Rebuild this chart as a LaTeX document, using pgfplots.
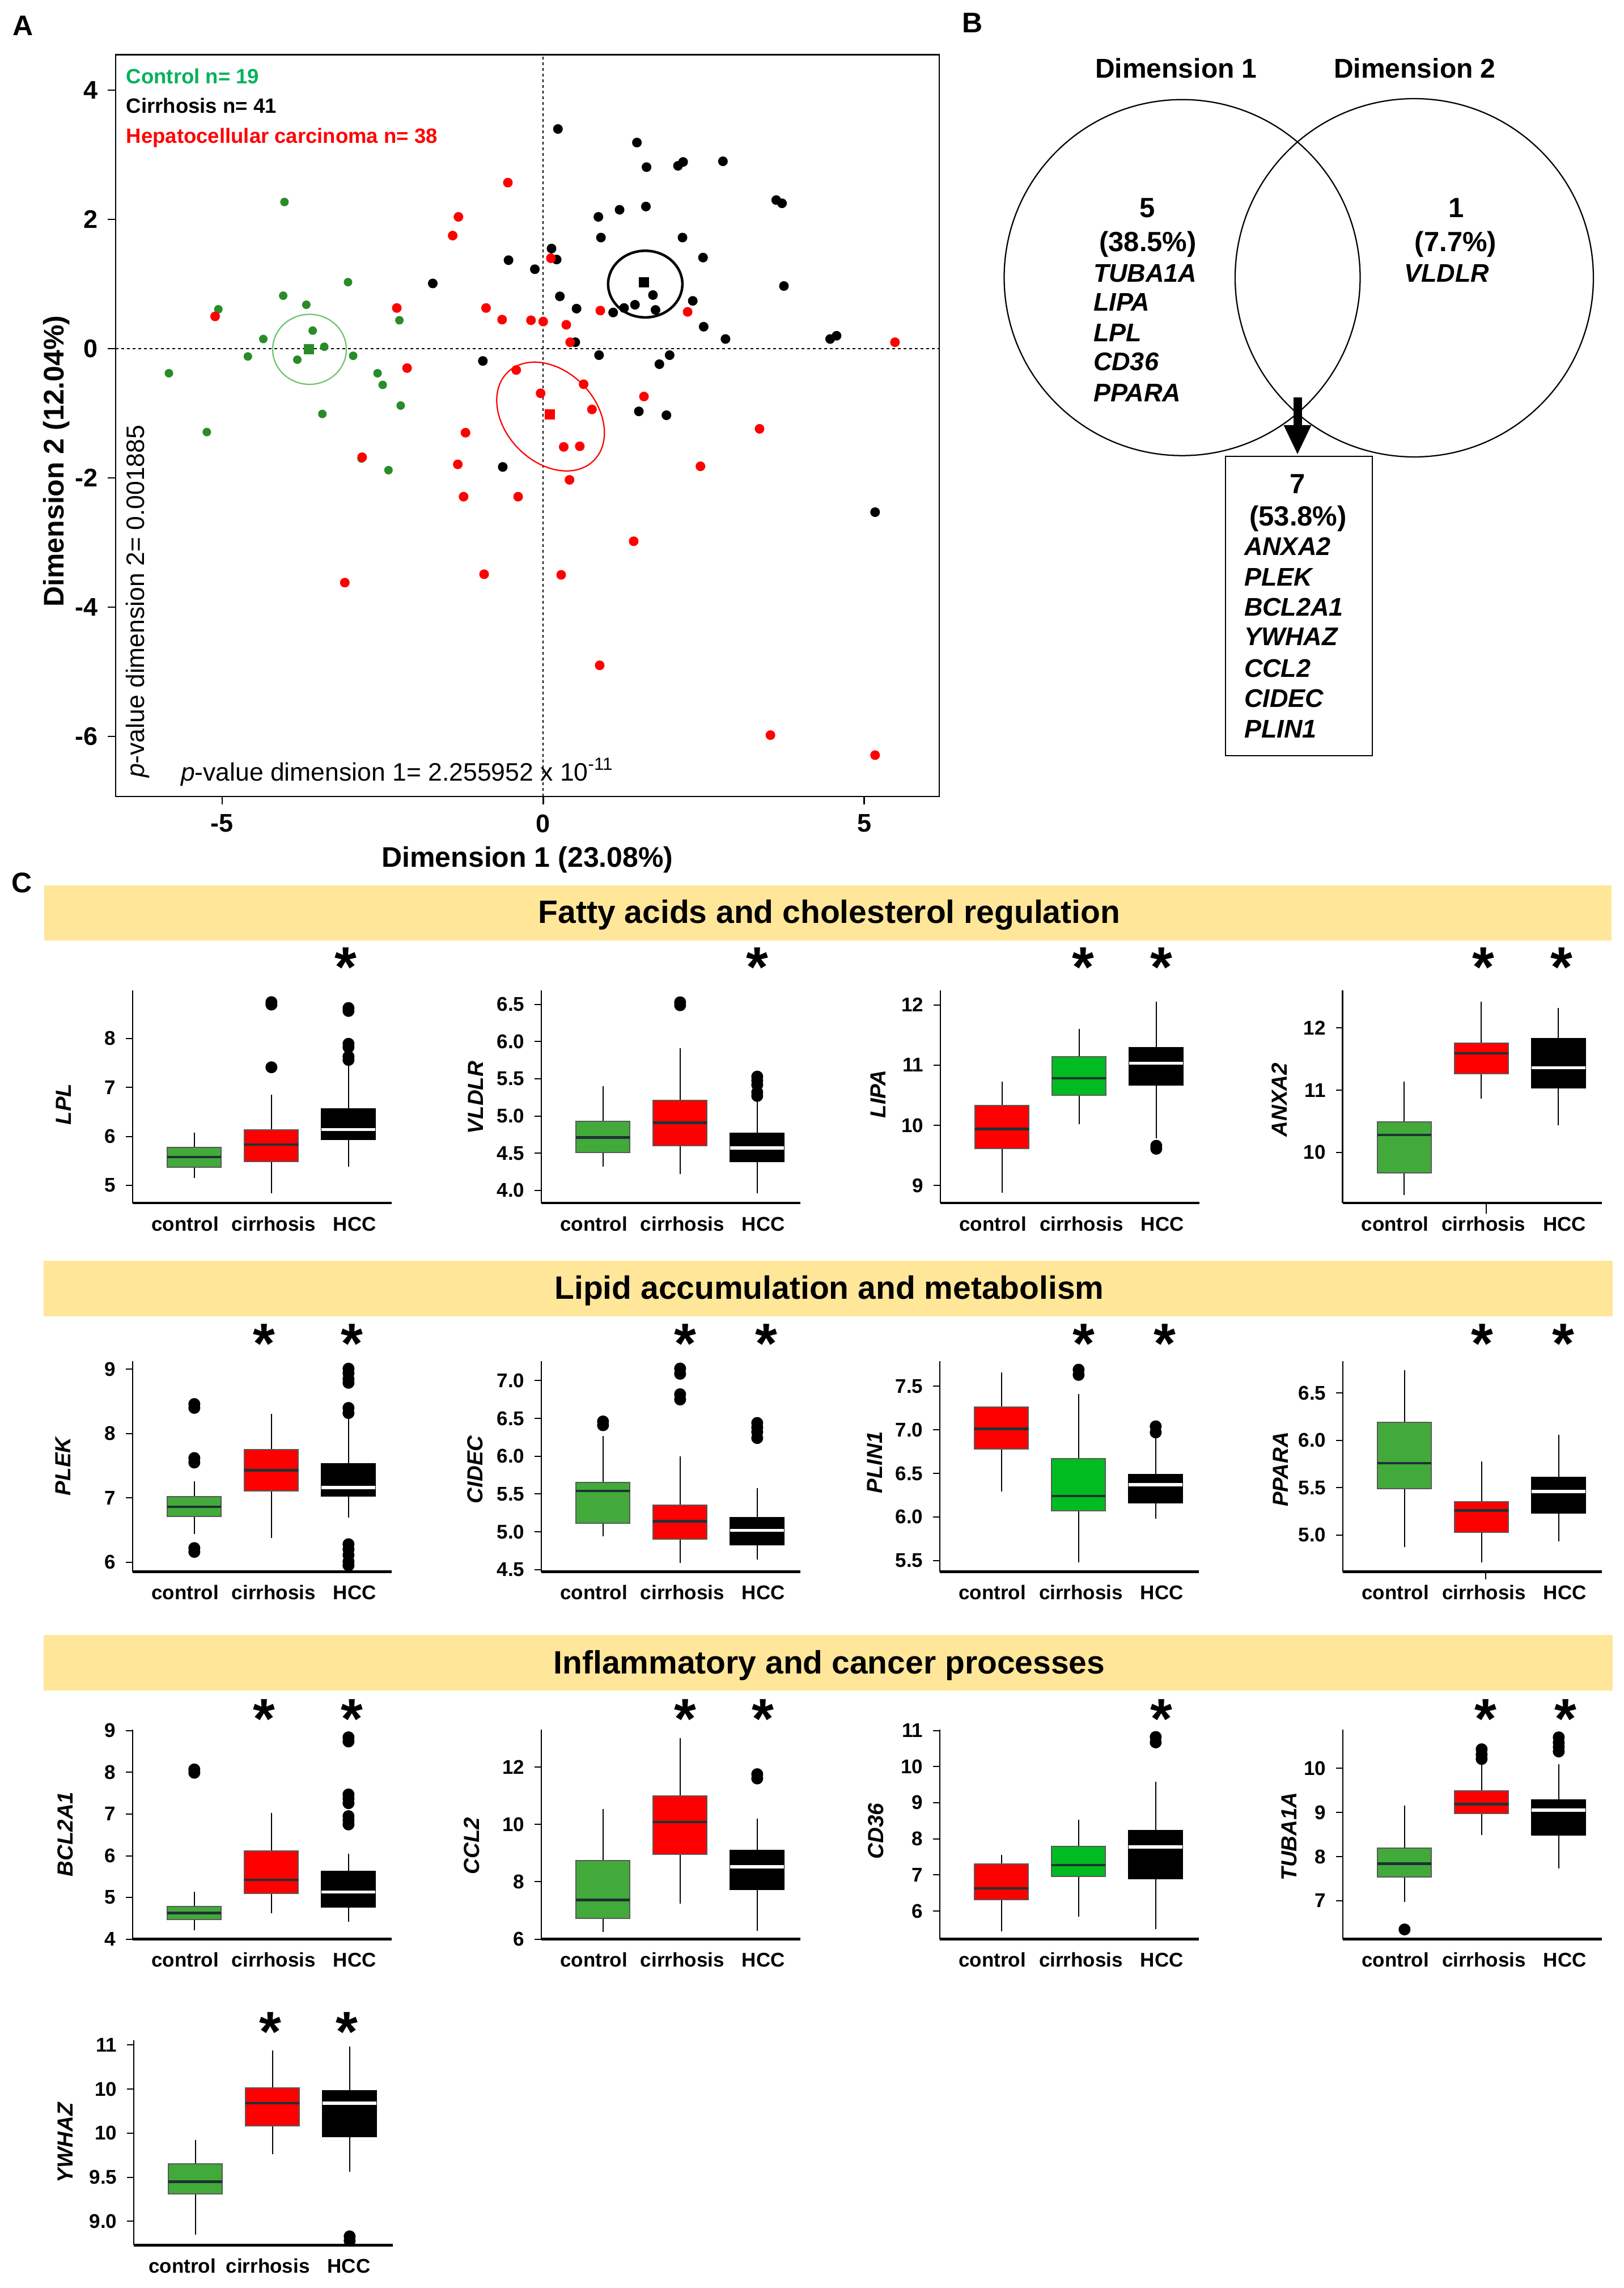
\documentclass[border=0pt]{standalone}
\usepackage{pgfplots}
\pgfplotsset{compat=1.18}
\usepgfplotslibrary{statistics}
\usetikzlibrary{shapes.geometric}
\usepackage{fontspec}
\setmainfont{Liberation Sans}
\definecolor{ptgreen}{RGB}{40,140,40}
\definecolor{ctrltxt}{RGB}{0,178,90}
\definecolor{ellgreen}{RGB}{110,195,110}
\definecolor{cred}{RGB}{255,0,0}
\definecolor{bgreen}{RGB}{66,170,58}
\definecolor{brgreen}{RGB}{0,188,32}
\definecolor{medcol}{RGB}{30,50,50}
\definecolor{banner}{RGB}{255,230,153}
\newcommand\fs[1]{\fontsize{#1}{#1}\selectfont}
\pgfplotsset{
  bpax/.style={scale only axis, width=91.4pt, axis lines*=left, xmin=0.2, xmax=3.56,
    xtick={0.88,2.03,3.08}, xticklabels={control,cirrhosis,HCC}, x tick style={draw=none},
    tick align=outside, major tick length=2.4pt, y tick style={black,line width=0.4pt},
    x axis line style={line width=0.9pt}, y axis line style={line width=0.5pt},
    tick label style={font=\bfseries\fs{7}},
    xticklabel style={anchor=base, yshift=-7.4pt},
    ylabel style={font=\bfseries\itshape\fs{7.7}, anchor=center},
    clip=false, boxplot/draw direction=y, boxplot/box extend=0.7, boxplot/whisker extend=0,
  },
  gbx/.style={black, mark=*, mark size=1.9pt, mark options={fill=black,draw=black},
    boxplot/every box/.style={fill=bgreen, draw=black!65, line width=0.4pt},
    boxplot/every median/.style={draw=medcol, line width=0.9pt},
    boxplot/every whisker/.style={draw=black, line width=0.4pt}},
  bbx/.style={black, mark=*, mark size=1.9pt, mark options={fill=black,draw=black},
    boxplot/every box/.style={fill=brgreen, draw=black!65, line width=0.4pt},
    boxplot/every median/.style={draw=medcol, line width=0.9pt},
    boxplot/every whisker/.style={draw=black, line width=0.4pt}},
  rbx/.style={black, mark=*, mark size=1.9pt, mark options={fill=black,draw=black},
    boxplot/every box/.style={fill=cred, draw=black!65, line width=0.4pt},
    boxplot/every median/.style={draw=medcol, line width=0.9pt},
    boxplot/every whisker/.style={draw=black, line width=0.4pt}},
  kbx/.style={black, mark=*, mark size=1.9pt, mark options={fill=black,draw=black},
    boxplot/every box/.style={fill=black, draw=black, line width=0.4pt},
    boxplot/every median/.style={draw=white, line width=1.1pt},
    boxplot/every whisker/.style={draw=black, line width=0.4pt}},
}
\newcommand\bp[7]{\addplot[#1, boxplot prepared={draw position=#2, lower whisker=#3, lower quartile=#4, median=#5, upper quartile=#6, upper whisker=#7}] coordinates {};}
\newcommand\bpo[8]{\addplot[#1, boxplot prepared={draw position=#2, lower whisker=#3, lower quartile=#4, median=#5, upper quartile=#6, upper whisker=#7}] table[row sep=\\, y index=0] {data\\ #8};}
\newcommand\sig[2]{\node[font=\bfseries\fs{20}, anchor=base, inner sep=0pt] at (#1,-#2) {*};}
\begin{document}
\begin{tikzpicture}
% ---------------- Panel A ----------------
\begin{axis}[at={(40.8pt,-281pt)}, anchor=south west, scale only axis, width=290.6pt, height=261.7pt,
  xmin=-6.66, xmax=6.17, ymin=-6.93, ymax=4.55,
  xtick={-5,0,5}, xticklabels={-5,0,5}, ytick={-6,-4,-2,0,2,4}, yticklabels={-6,-4,-2,0,2,4},
  tick align=outside, xtick pos=left, ytick pos=left, major tick length=2.8pt,
  axis line style={line width=0.55pt}, tick style={black, line width=0.5pt},
  tick label style={font=\bfseries\fs{9}},
  xlabel={Dimension 1 (23.08\%)}, ylabel={Dimension 2 (12.04\%)},
  label style={font=\bfseries\fs{10}},
  xlabel style={at={(axis description cs:0.5,0)}, anchor=center, yshift=-22.4pt},
  ylabel style={at={(axis description cs:-0.0718,0.452)}, anchor=center},
  clip=false]
\addplot[black, dash pattern=on 1pt off 1pt, line width=0.45pt] coordinates {(0,-6.93)(0,4.55)};
\addplot[black, dash pattern=on 1pt off 1pt, line width=0.45pt] coordinates {(-6.66,0)(6.17,0)};
\addplot[only marks, mark=*, mark size=1.3pt, color=ptgreen, mark options={fill=ptgreen,draw=ptgreen}] coordinates {
(-4.03,2.27)(-3.04,1.03)(-4.05,0.82)(-3.69,0.68)(-5.06,0.61)(-2.24,0.44)(-3.59,0.28)(-4.36,0.15)(-3.41,0.03)(-4.60,-0.12)(-2.96,-0.11)(-3.83,-0.17)(-5.83,-0.38)(-2.58,-0.38)(-2.50,-0.56)(-2.22,-0.88)(-3.44,-1.01)(-5.24,-1.29)(-2.41,-1.88)(-2.83,-1.70)};
\addplot[only marks, mark=*, mark size=1.5pt, color=black, mark options={fill=black,draw=black}] coordinates {
(0.23,3.40)(1.46,3.19)(1.61,2.81)(2.10,2.83)(2.18,2.89)(2.80,2.90)(3.63,2.30)(3.72,2.25)(1.19,2.15)(1.60,2.20)(0.86,2.04)(0.90,1.72)(2.17,1.72)(0.13,1.55)(0.21,1.38)(-0.54,1.37)(-0.13,1.23)(2.49,1.41)(-1.72,1.01)(3.75,0.97)(0.26,0.81)(1.71,0.83)(2.33,0.74)(0.52,0.62)(1.09,0.56)(1.26,0.63)(1.43,0.68)(1.75,0.60)(2.50,0.34)(2.84,0.15)(4.47,0.15)(4.57,0.20)(0.50,0.10)(0.87,-0.10)(1.97,-0.10)(1.81,-0.24)(-0.94,-0.19)(1.49,-0.97)(1.92,-1.03)(-0.63,-1.83)(5.17,-2.53)};
\addplot[only marks, mark=*, mark size=1.5pt, color=cred, mark options={fill=cred,draw=cred}] coordinates {
(-0.55,2.57)(-1.32,2.04)(-1.41,1.75)(0.12,1.40)(-2.28,0.63)(-0.89,0.63)(0.89,0.59)(2.25,0.57)(-5.11,0.50)(-0.64,0.45)(-0.19,0.44)(0.0,0.42)(0.36,0.37)(0.42,0.10)(5.48,0.10)(-2.12,-0.30)(-0.42,-0.33)(0.63,-0.55)(-0.04,-0.69)(1.57,-0.74)(0.76,-0.94)(-1.21,-1.30)(3.37,-1.24)(0.32,-1.52)(0.57,-1.51)(-2.82,-1.68)(-1.33,-1.79)(2.45,-1.82)(0.41,-2.03)(-1.24,-2.29)(-0.39,-2.29)(1.41,-2.98)(-0.92,-3.49)(0.28,-3.50)(-3.09,-3.62)(0.88,-4.90)(3.54,-5.98)(5.17,-6.29)};
\addplot[only marks, mark=square*, mark size=1.6pt, color=ptgreen, mark options={fill=ptgreen,draw=ptgreen}] coordinates {(-3.65,-0.01)};
\addplot[only marks, mark=square*, mark size=1.6pt, color=black, mark options={fill=black,draw=black}] coordinates {(1.57,1.03)};
\addplot[only marks, mark=square*, mark size=1.6pt, color=cred, mark options={fill=cred,draw=cred}] coordinates {(0.10,-1.02)};
\node[draw=ellgreen, ellipse, minimum width=26pt, minimum height=24.7pt, inner sep=0pt, line width=0.45pt] at (axis cs:-3.64,-0.01) {};
\node[draw=black, ellipse, minimum width=26.2pt, minimum height=23.5pt, inner sep=0pt, line width=0.9pt] at (axis cs:1.59,1.0) {};
\node[draw=cred, ellipse, minimum width=43.5pt, minimum height=32pt, inner sep=0pt, rotate=-46, line width=0.45pt] at (axis cs:0.115,-1.05) {};
\end{axis}
% ---------------- Row 1 ----------------
\begin{axis}[bpax, at={(46.8pt,-424.4pt)}, anchor=south west, height=75pt, ymin=4.64, ymax=8.98,
  ytick={5,6,7,8}, yticklabels={5,6,7,8}, ylabel={LPL}, ylabel style={at={(axis description cs:-0.267,0.464)}}]
\bp{gbx}{1}{5.15}{5.37}{5.58}{5.77}{6.07}
\bpo{rbx}{2}{4.84}{5.49}{5.83}{6.13}{6.85}{8.74\\ 8.69\\ 7.41\\}
\bpo{kbx}{3}{5.38}{5.94}{6.14}{6.56}{7.45}{8.62\\ 8.56\\ 7.89\\ 7.82\\ 7.63\\ 7.56\\}
\end{axis}
\begin{axis}[bpax, at={(191pt,-424.4pt)}, anchor=south west, height=75pt, ymin=3.83, ymax=6.69,
  ytick={4,4.5,5,5.5,6,6.5}, yticklabels={4.0,4.5,5.0,5.5,6.0,6.5}, ylabel={VLDLR}, ylabel style={at={(axis description cs:-0.254,0.496)}}]
\bp{gbx}{1}{4.32}{4.51}{4.71}{4.93}{5.40}
\bpo{rbx}{2}{4.22}{4.60}{4.91}{5.21}{5.91}{6.53\\ 6.49\\}
\bpo{kbx}{3}{3.96}{4.39}{4.57}{4.77}{5.22}{5.27\\ 5.32\\ 5.42\\ 5.48\\ 5.53\\}
\end{axis}
\begin{axis}[bpax, at={(331.8pt,-424.4pt)}, anchor=south west, height=75pt, ymin=8.71, ymax=12.24,
  ytick={9,10,11,12}, yticklabels={9,10,11,12}, ylabel={LIPA}, ylabel style={at={(axis description cs:-0.241,0.512)}}]
\bp{rbx}{1}{8.88}{9.61}{9.94}{10.33}{10.72}
\bp{bbx}{2}{10.02}{10.50}{10.78}{11.14}{11.60}
\bpo{kbx}{3}{9.78}{10.67}{11.03}{11.29}{12.05}{9.66\\ 9.61\\}
\end{axis}
\begin{axis}[bpax, at={(473.7pt,-424.4pt)}, anchor=south west, height=75pt, ymin=9.19, ymax=12.60,
  ytick={10,11,12}, yticklabels={10,11,12}, ylabel={ANXA2}, ylabel style={at={(axis description cs:-0.243,0.485)}}]
\addplot[black, line width=0.4pt] coordinates {(2.06,9.19)(2.06,9.02)};
\bp{gbx}{1}{9.32}{9.67}{10.28}{10.49}{11.14}
\bp{rbx}{2}{10.86}{11.26}{11.59}{11.75}{12.42}
\bp{kbx}{3}{10.44}{11.04}{11.36}{11.83}{12.32}
\end{axis}
% ---------------- Row 2 ----------------
\begin{axis}[bpax, at={(46.8pt,-554.54pt)}, anchor=south west, height=74.4pt, ymin=5.85, ymax=9.13,
  ytick={6,7,8,9}, yticklabels={6,7,8,9}, ylabel={PLEK}, ylabel style={at={(axis description cs:-0.269,0.5)}}]
\bpo{gbx}{1}{6.44}{6.71}{6.86}{7.02}{7.26}{8.46\\ 8.40\\ 7.62\\ 7.55\\ 6.22\\ 6.16\\}
\bp{rbx}{2}{6.38}{7.11}{7.43}{7.75}{8.31}
\bpo{kbx}{3}{6.69}{7.03}{7.16}{7.53}{8.27}{9.01\\ 8.94\\ 8.85\\ 8.79\\ 8.40\\ 8.32\\ 6.28\\ 6.20\\ 6.11\\ 6.01\\ 5.95\\}
\end{axis}
\begin{axis}[bpax, at={(191pt,-554.54pt)}, anchor=south west, height=74.4pt, ymin=4.47, ymax=7.26,
  ytick={4.5,5,5.5,6,6.5,7}, yticklabels={4.5,5.0,5.5,6.0,6.5,7.0}, ylabel={CIDEC}, ylabel style={at={(axis description cs:-0.255,0.485)}}]
\bpo{gbx}{1}{4.94}{5.11}{5.54}{5.65}{6.27}{6.46\\ 6.41\\}
\bpo{rbx}{2}{4.59}{4.90}{5.14}{5.35}{6.00}{7.16\\ 7.09\\ 6.82\\ 6.75\\}
\bpo{kbx}{3}{4.63}{4.83}{5.02}{5.19}{5.58}{6.44\\ 6.38\\ 6.32\\ 6.24\\}
\end{axis}
\begin{axis}[bpax, at={(331.6pt,-554.54pt)}, anchor=south west, height=74.4pt, ymin=5.37, ymax=7.79,
  ytick={5.5,6,6.5,7,7.5}, yticklabels={5.5,6.0,6.5,7.0,7.5}, ylabel={PLIN1}, ylabel style={at={(axis description cs:-0.252,0.518)}}]
\bp{rbx}{1}{6.29}{6.78}{7.01}{7.26}{7.66}
\bpo{bbx}{2}{5.48}{6.07}{6.24}{6.67}{7.41}{7.69\\ 7.63\\}
\bpo{kbx}{3}{5.98}{6.16}{6.37}{6.49}{6.93}{7.04\\ 6.97\\}
\end{axis}
\begin{axis}[bpax, at={(473.8pt,-554.54pt)}, anchor=south west, height=74.4pt, ymin=4.61, ymax=6.84,
  ytick={5,5.5,6,6.5}, yticklabels={5.0,5.5,6.0,6.5}, ylabel={PPARA}, ylabel style={at={(axis description cs:-0.240,0.486)}}]
\addplot[black, line width=0.4pt] coordinates {(2.05,4.61)(2.05,4.53)};
\bp{gbx}{1}{4.87}{5.49}{5.76}{6.19}{6.74}
\bp{rbx}{2}{4.71}{5.03}{5.26}{5.35}{5.78}
\bp{kbx}{3}{4.93}{5.23}{5.46}{5.61}{6.06}
\end{axis}
% ---------------- Row 3 ----------------
\begin{axis}[bpax, at={(46.8pt,-684.12pt)}, anchor=south west, height=74pt, ymin=4, ymax=9.03,
  ytick={4,5,6,7,8,9}, yticklabels={4,5,6,7,8,9}, ylabel={BCL2A1}, ylabel style={at={(axis description cs:-0.260,0.5)}}]
\bpo{gbx}{1}{4.21}{4.47}{4.63}{4.79}{5.14}{8.07\\ 7.99\\}
\bp{rbx}{2}{4.62}{5.10}{5.42}{6.11}{7.03}
\bpo{kbx}{3}{4.41}{4.77}{5.13}{5.62}{6.05}{8.84\\ 8.74\\ 7.47\\ 7.37\\ 7.26\\ 6.95\\ 6.85\\ 6.75\\}
\end{axis}
\begin{axis}[bpax, at={(191pt,-684.12pt)}, anchor=south west, height=74pt, ymin=6, ymax=13.31,
  ytick={6,8,10,12}, yticklabels={6,8,10,12}, ylabel={CCL2}, ylabel style={at={(axis description cs:-0.269,0.445)}}]
\bp{gbx}{1}{6.24}{6.72}{7.37}{8.73}{10.53}
\bp{rbx}{2}{7.23}{8.96}{10.08}{10.99}{13.0}
\bpo{kbx}{3}{6.28}{7.73}{8.52}{9.09}{10.21}{11.75\\ 11.60\\}
\end{axis}
\begin{axis}[bpax, at={(331.6pt,-684.12pt)}, anchor=south west, height=74pt, ymin=5.22, ymax=11.03,
  ytick={6,7,8,9,10,11}, yticklabels={6,7,8,9,10,11}, ylabel={CD36}, ylabel style={at={(axis description cs:-0.247,0.515)}}]
\bp{rbx}{1}{5.43}{6.32}{6.63}{7.31}{7.55}
\bp{bbx}{2}{5.85}{6.95}{7.27}{7.79}{8.53}
\bpo{kbx}{3}{5.49}{6.89}{7.77}{8.23}{9.58}{10.82\\ 10.67\\}
\end{axis}
\begin{axis}[bpax, at={(473.8pt,-684.12pt)}, anchor=south west, height=74pt, ymin=6.13, ymax=10.88,
  ytick={7,8,9,10}, yticklabels={7,8,9,10}, ylabel={TUBA1A}, ylabel style={at={(axis description cs:-0.208,0.49)}}]
\bpo{gbx}{1}{6.97}{7.54}{7.84}{8.19}{9.15}{6.35\\}
\bpo{rbx}{2}{8.49}{8.97}{9.19}{9.49}{10.11}{10.43\\ 10.31\\ 10.21\\}
\bpo{kbx}{3}{7.73}{8.49}{9.05}{9.28}{10.09}{10.70\\ 10.58\\ 10.48\\ 10.38\\}
\end{axis}
% ---------------- Row 4 ----------------
\begin{axis}[bpax, at={(47.2pt,-792.08pt)}, anchor=south west, height=72.2pt, ymin=8.73, ymax=11.05,
  xtick={0.83,1.94,2.99},
  ytick={9,9.5,10,10.5,11}, yticklabels={9.0,9.5,10,10,11}, ylabel={YWHAZ}, ylabel style={at={(axis description cs:-0.265,0.5)}}]
\bp{gbx}{1}{8.85}{9.31}{9.45}{9.65}{9.92}
\bp{rbx}{2}{9.76}{10.08}{10.34}{10.51}{10.94}
\bpo{kbx}{3}{9.56}{9.96}{10.34}{10.48}{10.98}{8.83\\ 8.78\\}
\end{axis}
\begin{scope}[x=0.2pt,y=0.2pt]
\node[anchor=base west, inner sep=0pt, font=\bfseries\fs{7.3}, text=ctrltxt] at (222,-147.5) {Control n= 19};
\node[anchor=base west, inner sep=0pt, font=\bfseries\fs{7.3}] at (222,-199.5) {Cirrhosis n= 41};
\node[anchor=base west, inner sep=0pt, font=\bfseries\fs{7.3}, text=cred] at (222,-252.5) {Hepatocellular carcinoma n= 38};
\node[anchor=base west, inner sep=0pt, font=\fs{8.9}] at (318,-1378) {\textit{p}-value dimension 1= 2.255952 x 10\textsuperscript{-11}};
\node[anchor=base west, inner sep=0pt, font=\fs{8.9}, rotate=90] at (254,-1373) {\textit{p}-value dimension 2= 0.001885};
\node[font=\bfseries\fs{10}, inner sep=0pt] at (41,-45) {A};
\node[font=\bfseries\fs{10}, inner sep=0pt] at (1716,-40) {B};
\node[font=\bfseries\fs{10}, inner sep=0pt] at (39,-1557) {C};
% ---------------- Panel B (Venn) ----------------
\draw[line width=0.45pt] (2085.5,-489.7) circle[radius=314];
\draw[line width=0.45pt] (2495,-490) circle[radius=316];
\draw[line width=0.45pt, fill=white] (2162,-805) rectangle (2421,-1333);
\fill (2281.5,-701) rectangle (2296.5,-752);
\fill (2264.5,-750) -- (2313.5,-750) -- (2289,-801) -- cycle;
\node[anchor=base, inner sep=0pt, font=\bfseries\fs{9.6}] at (2075,-138) {Dimension 1};
\node[anchor=base, inner sep=0pt, font=\bfseries\fs{9.6}] at (2496,-138) {Dimension 2};
\node[anchor=base, inner sep=0pt, font=\bfseries\fs{9.8}] at (2024,-383.5) {5};
\node[anchor=base, inner sep=0pt, font=\bfseries\fs{9.8}] at (2025,-444) {(38.5\%)};
\node[anchor=base west, inner sep=0pt, font=\bfseries\itshape\fs{9}] at (1928,-498) {TUBA1A};
\node[anchor=base west, inner sep=0pt, font=\bfseries\itshape\fs{9}] at (1928,-549) {LIPA};
\node[anchor=base west, inner sep=0pt, font=\bfseries\itshape\fs{9}] at (1928,-603) {LPL};
\node[anchor=base west, inner sep=0pt, font=\bfseries\itshape\fs{9}] at (1928,-654) {CD36};
\node[anchor=base west, inner sep=0pt, font=\bfseries\itshape\fs{9}] at (1928,-709) {PPARA};
\node[anchor=base, inner sep=0pt, font=\bfseries\fs{9.8}] at (2569,-383.5) {1};
\node[anchor=base, inner sep=0pt, font=\bfseries\fs{9.8}] at (2568,-444) {(7.7\%)};
\node[anchor=base west, inner sep=0pt, font=\bfseries\itshape\fs{9}] at (2476,-498) {VLDLR};
\node[anchor=base, inner sep=0pt, font=\bfseries\fs{9.8}] at (2289,-870.5) {7};
\node[anchor=base, inner sep=0pt, font=\bfseries\fs{9.8}] at (2290,-928) {(53.8\%)};
\node[anchor=base west, inner sep=0pt, font=\bfseries\itshape\fs{9}] at (2194,-980) {ANXA2};
\node[anchor=base west, inner sep=0pt, font=\bfseries\itshape\fs{9}] at (2194,-1034) {PLEK};
\node[anchor=base west, inner sep=0pt, font=\bfseries\itshape\fs{9}] at (2194,-1087) {BCL2A1};
\node[anchor=base west, inner sep=0pt, font=\bfseries\itshape\fs{9}] at (2194,-1139) {YWHAZ};
\node[anchor=base west, inner sep=0pt, font=\bfseries\itshape\fs{9}] at (2194,-1195) {CCL2};
\node[anchor=base west, inner sep=0pt, font=\bfseries\itshape\fs{9}] at (2194,-1248) {CIDEC};
\node[anchor=base west, inner sep=0pt, font=\bfseries\itshape\fs{9}] at (2194,-1302) {PLIN1};
% ---------------- Banners ----------------
\fill[banner] (78,-1561.6) rectangle (2843,-1659.4);
\fill[banner] (77,-2224.5) rectangle (2845,-2321.6);
\fill[banner] (77,-2883.7) rectangle (2845,-2981.7);
\node[anchor=base, inner sep=0pt, font=\bfseries\fs{11.4}] at (1463,-1629) {Fatty acids and cholesterol regulation};
\node[anchor=base, inner sep=0pt, font=\bfseries\fs{11.4}] at (1463,-2292) {Lipid accumulation and metabolism};
\node[anchor=base, inner sep=0pt, font=\bfseries\fs{11.4}] at (1463,-2953) {Inflammatory and cancer processes};
% ---------------- significance stars ----------------
\sig{610}{1740.5}
\sig{1336}{1740.5}
\sig{1911}{1740.5}\sig{2049}{1740.5}
\sig{2617}{1740.5}\sig{2755}{1740.5}
\sig{466}{2404.5}\sig{621}{2404.5}
\sig{1209}{2404.5}\sig{1352}{2404.5}
\sig{1912}{2404.5}\sig{2055}{2404.5}
\sig{2615}{2404.5}\sig{2758}{2404.5}
\sig{466}{3066.5}\sig{621}{3066.5}
\sig{1209}{3066.5}\sig{1346}{3066.5}
\sig{2049}{3066.5}
\sig{2621}{3066.5}\sig{2762}{3066.5}
\sig{477}{3618.5}\sig{612}{3618.5}
\end{scope}
\pgfresetboundingbox
\path[use as bounding box] (0pt,0pt) rectangle (572.8pt,-807.2pt);
\end{tikzpicture}
\end{document}
